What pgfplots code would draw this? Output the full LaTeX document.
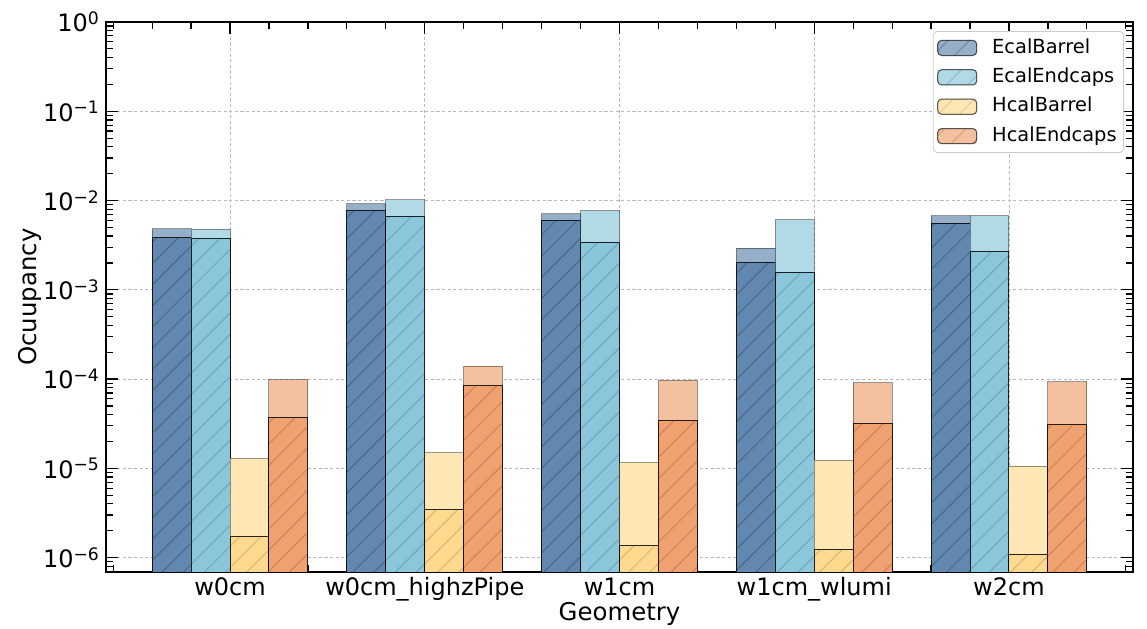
\documentclass[border=0pt]{standalone}
\usepackage{fontspec}
\setmainfont{DejaVu Sans}
\usepackage{pgfplots}
\usepackage{pgfplotstable}
\pgfplotsset{compat=1.18}
\usetikzlibrary{patterns.meta}

\definecolor{EBd}{RGB}{99,136,176}
\definecolor{EBl}{RGB}{150,175,201}
\definecolor{EEd}{RGB}{139,198,218}
\definecolor{EEl}{RGB}{178,217,230}
\definecolor{HBd}{RGB}{254,217,142}
\definecolor{HBl}{RGB}{254,230,181}
\definecolor{HEd}{RGB}{240,161,112}
\definecolor{HEl}{RGB}{244,193,160}
\definecolor{EBh}{RGB}{55,80,110}
\definecolor{EEh}{RGB}{85,145,170}
\definecolor{HBh}{RGB}{190,160,100}
\definecolor{HEh}{RGB}{180,110,70}

\newcommand\sups[1]{\raisebox{3.7pt}{\fontsize{8.6}{9}\selectfont #1}}

% x = geometry index, max = light (full) bar, mean = dark hatched bar
\pgfplotstableread{
x max mean
0 4.82e-3 3.83e-3
1 9.18e-3 7.73e-3
2 7.10e-3 5.97e-3
3 2.93e-3 2.02e-3
4 6.74e-3 5.57e-3
}\EB
\pgfplotstableread{
x max mean
0 4.74e-3 3.73e-3
1 1.02e-2 6.62e-3
2 7.73e-3 3.42e-3
3 6.13e-3 1.58e-3
4 6.80e-3 2.69e-3
}\EE
\pgfplotstableread{
x max mean
0 1.29e-5 1.71e-6
1 1.49e-5 3.47e-6
2 1.16e-5 1.36e-6
3 1.24e-5 1.24e-6
4 1.06e-5 1.09e-6
}\HB
\pgfplotstableread{
x max mean
0 9.86e-5 3.71e-5
1 1.40e-4 8.38e-5
2 9.70e-5 3.46e-5
3 9.07e-5 3.18e-5
4 9.29e-5 3.10e-5
}\HE

\tikzset{
  hatchit/.style={postaction={pattern color=#1, pattern={Lines[angle=45,distance=7.5pt,line width=0.5pt]}}},
}
\pgfplotsset{
  lightbar/.style={ybar, bar width=0.2, fill=#1, draw=black, draw opacity=0.4, line width=0.5pt},
  darkbar/.style 2 args={ybar, bar width=0.2, fill=#1, draw=black, draw opacity=0.6, line width=0.5pt, hatchit=#2},
}

\begin{document}
\begin{tikzpicture}
\useasboundingbox (-53pt,-28pt) rectangle (520.5pt,286pt);
\begin{axis}[
  at={(0,0)}, anchor=south west,
  scale only axis, width=513.5pt, height=275pt,
  xmin=-0.637, xmax=4.637,
  ymode=log, ymin=6.9e-7, ymax=1, log origin y=infty,
  xtick={0,1,2,3,4},
  xticklabels={w0cm, w0cm\_highzPipe, w1cm, w1cm\_wlumi, w2cm},
  minor xtick={-0.6,-0.4,-0.2,0.2,0.4,0.6,0.8,1.2,1.4,1.6,1.8,2.2,2.4,2.6,2.8,3.2,3.4,3.6,3.8,4.2,4.4,4.6},
  ytick={1e-6,1e-5,1e-4,1e-3,1e-2,1e-1,1},
  yticklabels={10\sups{−6},10\sups{−5},10\sups{−4},10\sups{−3},10\sups{−2},10\sups{−1},10\sups{0}},
  minor ytick={7e-7,8e-7,9e-7,
    2e-6,3e-6,4e-6,5e-6,6e-6,7e-6,8e-6,9e-6,
    2e-5,3e-5,4e-5,5e-5,6e-5,7e-5,8e-5,9e-5,
    2e-4,3e-4,4e-4,5e-4,6e-4,7e-4,8e-4,9e-4,
    2e-3,3e-3,4e-3,5e-3,6e-3,7e-3,8e-3,9e-3,
    2e-2,3e-2,4e-2,5e-2,6e-2,7e-2,8e-2,9e-2,
    2e-1,3e-1,4e-1,5e-1,6e-1,7e-1,8e-1,9e-1},
  tick align=inside,
  major tick length=6pt, minor tick length=3.5pt,
  tick style={black, line width=0.6pt},
  axis line style={line width=0.7pt},
  grid=major,
  major grid style={gray!55, dash pattern=on 1.6pt off 1.2pt, line width=0.35pt},
  tick label style={font=\fontsize{12}{14}\selectfont},
  xticklabel style={anchor=base, yshift=-11.5pt},
  label style={font=\fontsize{12.2}{14}\selectfont},
  xlabel={Geometry},
  xlabel style={at={(axis description cs:0.5,0)}, anchor=base, yshift=-24pt},
  ylabel={Ocuupancy},
  ylabel style={at={(axis description cs:-0.074,0.5)}, anchor=center},
  legend style={at={(axis description cs:1,1)}, anchor=north east,
    xshift=-4.5pt, yshift=-4.5pt, draw=black!20, rounded corners=2pt,
    fill=white, inner sep=2pt, row sep=2.2pt, column sep=6pt,
    nodes={inner sep=1.5pt, text height=7.3pt, text depth=2.2pt},
    font=\fontsize{9.7}{11}\selectfont},
  legend cell align=left,
  legend image code/.code={\draw[#1] (0pt,-3.8pt) rectangle (19.5pt,3.8pt);},
]
\addlegendimage{fill=EBl, draw=black, draw opacity=0.4, line width=0.5pt, hatchit=EBh}
\addlegendentry{EcalBarrel}
\addlegendimage{fill=EEl, draw=black, draw opacity=0.4, line width=0.5pt, hatchit=EEh}
\addlegendentry{EcalEndcaps}
\addlegendimage{fill=HBl, draw=black, draw opacity=0.4, line width=0.5pt, hatchit=HBh}
\addlegendentry{HcalBarrel}
\addlegendimage{fill=HEl, draw=black, draw opacity=0.4, line width=0.5pt, hatchit=HEh}
\addlegendentry{HcalEndcaps}

\addplot[forget plot, lightbar=EBl, bar shift=-0.3] table[x=x,y=max]{\EB};
\addplot[forget plot, darkbar={EBd}{EBh}, bar shift=-0.3] table[x=x,y=mean]{\EB};
\addplot[forget plot, lightbar=EEl, bar shift=-0.1] table[x=x,y=max]{\EE};
\addplot[forget plot, darkbar={EEd}{EEh}, bar shift=-0.1] table[x=x,y=mean]{\EE};
\addplot[forget plot, lightbar=HBl, bar shift=0.1] table[x=x,y=max]{\HB};
\addplot[forget plot, darkbar={HBd}{HBh}, bar shift=0.1] table[x=x,y=mean]{\HB};
\addplot[forget plot, lightbar=HEl, bar shift=0.3] table[x=x,y=max]{\HE};
\addplot[forget plot, darkbar={HEd}{HEh}, bar shift=0.3] table[x=x,y=mean]{\HE};
\end{axis}
\end{tikzpicture}
\end{document}
